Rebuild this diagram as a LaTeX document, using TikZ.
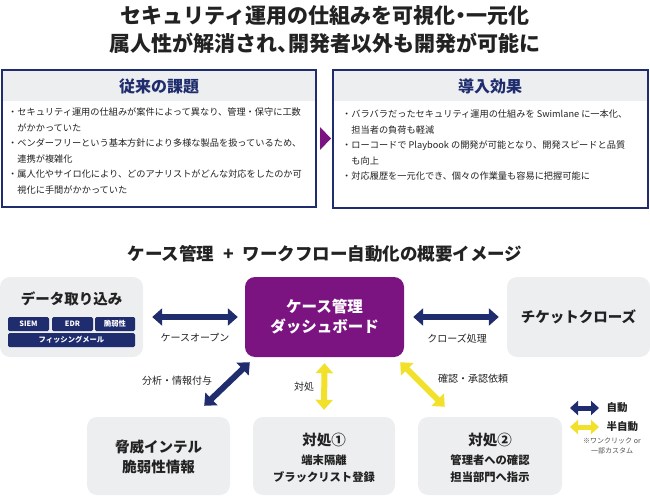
\documentclass[tikz,border=0pt]{standalone}
\usepackage{fontspec}
\setmainfont{Noto Sans CJK JP}
\usetikzlibrary{arrows.meta,positioning}

\definecolor{navy}{HTML}{1F2C6E}
\definecolor{violet}{HTML}{7B1481}
\definecolor{lemon}{HTML}{F2E12A}
\definecolor{cardgray}{HTML}{EDEEEF}
\definecolor{headgray}{HTML}{ECEEF0}
\definecolor{ink}{HTML}{222222}

\tikzset{
  panel/.style={draw=navy,line width=1.3pt},
  headband/.style={fill=headgray},
  headtitle/.style={text=navy,font=\fontsize{16}{18}\selectfont\bfseries},
  bullets/.style={text=ink,align=left,inner sep=0pt,font=\fontsize{9.2}{15.5}\selectfont},
  card/.style={fill=cardgray,rounded corners=10pt,minimum width=143pt,minimum height=80pt,inner sep=0pt},
  cardtitle/.style={text=ink,align=center,font=\fontsize{14.5}{20}\selectfont\bfseries},
  cardsub/.style={text=ink,align=center,font=\fontsize{11.3}{17}\selectfont\bfseries},
  tagbox/.style={fill=navy,rounded corners=1.5pt,text=white,inner sep=0pt,minimum height=14pt,font=\fontsize{7.3}{8}\selectfont\bfseries},
  autolink/.style={navy,line width=6pt,{Triangle[width=17pt,length=10pt]}-{Triangle[width=17pt,length=10pt]}},
  semilink/.style={lemon,line width=6pt,{Triangle[width=17pt,length=10pt]}-{Triangle[width=17pt,length=10pt]}},
  linklabel/.style={text=ink,font=\fontsize{10}{12}\selectfont},
}

\begin{document}
\begin{tikzpicture}[x=1pt,y=-1pt]
  \useasboundingbox (0,0) rectangle (650,497);

  % headline
  \node[text=ink,align=center,font=\fontsize{21}{28}\selectfont\bfseries\addfontfeature{RawFeature=+halt}] (headline) at (325,30)
    {セキュリティ運用の仕組みを可視化・一元化\\属人性が解消され、開発者以外も開発が可能に};

  % before / after panels
  \fill[headgray] (2,70) rectangle (316,101);
  \draw[panel] (2,70) rectangle (316,207);
  \node[headtitle] (oldtitle) at (159,86) {従来の課題};
  \node[bullets,anchor=north west] (oldlist) at (8,108)
    {・セキュリティ運用の仕組みが案件によって異なり、管理・保守に工数\\
     \hspace*{1em}がかかっていた\\
     ・ベンダーフリーという基本方針により多様な製品を扱っているため、\\
     \hspace*{1em}連携が複雑化\\
     ・属人化やサイロ化により、どのアナリストがどんな対応をしたのか可\\
     \hspace*{1em}視化に手間がかかっていた};

  \fill[violet] (320,127) -- (331,138.5) -- (320,150) -- cycle;

  \fill[headgray] (333,70) rectangle (648,101);
  \draw[panel] (333,70) rectangle (648,208);
  \node[headtitle] (newtitle) at (490,86) {導入効果};
  \node[bullets,anchor=north west] (newlist) at (342,110)
    {・バラバラだったセキュリティ運用の仕組みを Swimlane に一本化、\\
     \hspace*{1em}担当者の負荷も軽減\\
     ・ローコードで Playbook の開発が可能となり、開発スピードと品質\\
     \hspace*{1em}も向上\\
     ・対応履歴を一元化でき、個々の作業量も容易に把握可能に};

  % overview
  \node[text=ink,font=\fontsize{17.5}{20}\selectfont\bfseries] (overview) at (325,254)
    {ケース管理\enspace+\enspace ワークフロー自動化の概要イメージ};

  \node[card] (intake) at (71.5,317) {};
  \node[cardtitle] (intaketitle) at (71.5,299) {データ取り込み};
  \node[tagbox,minimum width=41pt] (siem) at (28.5,324) {SIEM};
  \node[tagbox,minimum width=41pt] (edr) at (72.5,324) {EDR};
  \node[tagbox,minimum width=40pt] (vuln) at (115,324) {脆弱性};
  \node[tagbox,minimum width=127pt] (phish) at (71.5,340) {フィッシングメール};

  \node[card,fill=violet,minimum width=159pt,text=white,align=center,
        font=\fontsize{15.5}{20}\selectfont\bfseries] (dash) at (324.5,317)
    {ケース管理\\ダッシュボード};

  \node[card] (ticket) at (578.5,317) {};
  \node[cardtitle] (tickettitle) at (578.5,317) {チケットクローズ};

  \node[card,minimum height=78pt] (threat) at (158.5,456) {};
  \node[cardtitle] (threattitle) at (158.5,457) {脅威インテル\\脆弱性情報};

  \node[card,minimum width=142pt,minimum height=78pt] (resp1) at (324,456) {};
  \node[cardtitle] (resp1title) at (324,440) {対処①};
  \node[cardsub] (resp1sub) at (324,468.5) {端末隔離\\ブラックリスト登録};

  \node[card,minimum width=144pt,minimum height=78pt] (resp2) at (490,456) {};
  \node[cardtitle] (resp2title) at (490,440) {対処②};
  \node[cardsub] (resp2sub) at (490,468.5) {管理者への確認\\担当部門へ指示};

  % connectors
  \draw[autolink,shorten <=9pt,shorten >=7pt] (intake.east) -- (dash.west);
  \node[linklabel] (openlabel) at (195,338) {ケースオープン};
  \draw[autolink,shorten <=9pt,shorten >=8pt] (dash.east) -- (ticket.west);
  \node[linklabel] (closelabel) at (457,339) {クローズ処理};
  \draw[autolink] ([shift={(5,5)}]dash.south west) -- ([shift={(-26,-11)}]threat.north east);
  \node[linklabel] (intellabel) at (177,381) {分析・情報付与};
  \draw[semilink,shorten <=6pt,shorten >=7pt] (dash.south) -- (resp1.north);
  \node[linklabel] (actlabel) at (304,387) {対処};
  \draw[semilink] ([shift={(-4,5)}]dash.south east) -- ([shift={(27,-10)}]resp2.north west);
  \node[linklabel] (asklabel) at (473,379) {確認・承認依頼};

  % legend
  \coordinate (autoa) at (570,408);
  \coordinate (autob) at (599,408);
  \coordinate (semia) at (570,427);
  \coordinate (semib) at (599,427);
  \draw[navy,line width=5pt,{Triangle[width=14pt,length=8pt]}-{Triangle[width=14pt,length=8pt]}] (autoa) -- (autob);
  \draw[lemon,line width=5pt,{Triangle[width=14pt,length=8pt]}-{Triangle[width=14pt,length=8pt]}] (semia) -- (semib);
  \node[anchor=west,text=ink,font=\fontsize{10.5}{12}\selectfont\bfseries] (autotext) at (603,408) {自動};
  \node[anchor=west,text=ink,font=\fontsize{10.5}{12}\selectfont\bfseries] (semitext) at (603,427) {半自動};
  \node[text=ink!80,align=center,font=\fontsize{7}{10}\selectfont] (semitextnote) at (612,446) {※ワンクリック or\\一部カスタム};
\end{tikzpicture}
\end{document}
